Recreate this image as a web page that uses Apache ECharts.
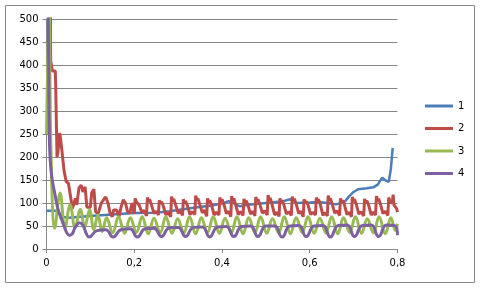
<!DOCTYPE html>
<html>
<head>
<meta charset="utf-8">
<script src="https://cdn.jsdelivr.net/npm/echarts@6/dist/echarts.min.js"></script>
<style>
  html, body { margin: 0; padding: 0; background: #fff; }
  #chart { width: 480px; height: 288px; }
</style>
</head>
<body>
<div id="chart"></div>
<script>
// series names shown in the legend
const seriesNames = ['1', '2', '3', '4']

// series 1 (blue) [x, y]
const s1 = [
  [0, 83], [0.025, 83], [0.035, 70], [0.05, 68], [0.1, 72], [0.15, 75], [0.2, 78],
  [0.25, 79], [0.28, 82], [0.3, 85], [0.34, 90], [0.38, 95], [0.405, 100], [0.415, 104],
  [0.425, 100], [0.44, 93], [0.46, 96], [0.5, 100], [0.54, 104], [0.555, 108], [0.57, 100],
  [0.6, 101], [0.62, 102], [0.64, 100], [0.66, 97], [0.68, 103], [0.69, 115], [0.7, 124],
  [0.71, 130], [0.73, 132], [0.745, 134], [0.755, 140], [0.765, 155], [0.775, 148],
  [0.78, 146], [0.785, 175], [0.789, 220]
]

// series 2 (red) [x, y]
const s2 = [
  [0, 520], [0.009, 520], [0.0095, 409], [0.013, 409], [0.0135, 387], [0.02, 387],
  [0.021, 354], [0.022, 300], [0.024, 200], [0.026, 210], [0.03, 252], [0.032, 240],
  [0.035, 215], [0.04, 170], [0.045, 146], [0.05, 143], [0.055, 113], [0.059, 88],
  [0.063, 85], [0.066, 110], [0.069, 96], [0.074, 133], [0.079, 139], [0.083, 124],
  [0.088, 135], [0.092, 91], [0.1, 91], [0.103, 122], [0.108, 130], [0.112, 80],
  [0.118, 78], [0.122, 78], [0.125, 100], [0.13, 107], [0.135, 113], [0.14, 100],
  [0.145, 78], [0.15, 70], [0.153, 85], [0.16, 85], [0.165, 70], [0.17, 91], [0.175, 107],
  [0.18, 100], [0.185, 80], [0.19, 78], [0.195, 100],
  [0.2, 76], [0.202, 110], [0.205, 102], [0.207, 106], [0.211, 96], [0.215, 99], [0.217, 80], [0.222, 84],
  [0.228, 72], [0.23, 112], [0.233, 103], [0.235, 108], [0.239, 97], [0.243, 100], [0.245, 77], [0.25, 82],
  [0.255, 74], [0.257, 106], [0.26, 98], [0.262, 103], [0.266, 94], [0.27, 97], [0.272, 74], [0.277, 80],
  [0.283, 70], [0.285, 114], [0.288, 104], [0.29, 109], [0.294, 97], [0.298, 100], [0.3, 78], [0.305, 83],
  [0.31, 73], [0.312, 108], [0.315, 99], [0.317, 104], [0.321, 95], [0.325, 98], [0.327, 75], [0.332, 81],
  [0.338, 75], [0.34, 116], [0.343, 105], [0.345, 110], [0.349, 98], [0.353, 101], [0.355, 79], [0.36, 84],
  [0.365, 71], [0.367, 110], [0.37, 101], [0.372, 106], [0.376, 96], [0.38, 99], [0.382, 74], [0.387, 80],
  [0.393, 74], [0.395, 112], [0.398, 103], [0.4, 108], [0.404, 98], [0.408, 101], [0.41, 77], [0.415, 82],
  [0.42, 70], [0.422, 115], [0.425, 104], [0.427, 110], [0.431, 97], [0.435, 100], [0.437, 75], [0.442, 81],
  [0.448, 73], [0.45, 109], [0.453, 100], [0.455, 105], [0.459, 96], [0.463, 99], [0.465, 76], [0.47, 82],
  [0.475, 72], [0.477, 113], [0.48, 103], [0.482, 108], [0.486, 98], [0.49, 101], [0.492, 78], [0.497, 83],
  [0.503, 74], [0.505, 117], [0.508, 105], [0.51, 111], [0.514, 97], [0.518, 100], [0.52, 74], [0.525, 80],
  [0.53, 71], [0.532, 110], [0.535, 101], [0.537, 106], [0.541, 96], [0.545, 99], [0.547, 76], [0.552, 81],
  [0.558, 73], [0.56, 114], [0.563, 104], [0.565, 109], [0.569, 98], [0.573, 101], [0.575, 77], [0.58, 82],
  [0.585, 70], [0.587, 108], [0.59, 99], [0.592, 104], [0.596, 96], [0.6, 99], [0.602, 75], [0.607, 80],
  [0.613, 74], [0.615, 112], [0.618, 103], [0.62, 108], [0.624, 97], [0.628, 100], [0.63, 73], [0.635, 79],
  [0.64, 72], [0.642, 116], [0.645, 105], [0.647, 110], [0.651, 98], [0.655, 101], [0.657, 78], [0.662, 83],
  [0.668, 73], [0.67, 110], [0.673, 101], [0.675, 106], [0.679, 96], [0.683, 99], [0.685, 75], [0.69, 80],
  [0.695, 70], [0.697, 113], [0.7, 103], [0.702, 108], [0.706, 97], [0.71, 100], [0.712, 76], [0.717, 81],
  [0.723, 72], [0.725, 109], [0.728, 100], [0.73, 105], [0.734, 96], [0.738, 99], [0.74, 74], [0.745, 80],
  [0.75, 74], [0.752, 115], [0.755, 104], [0.757, 109], [0.761, 98], [0.765, 101], [0.767, 77], [0.772, 82],
  [0.778, 73], [0.78, 112], [0.783, 102], [0.785, 106], [0.788, 100], [0.79, 118], [0.792, 96],
  [0.795, 100], [0.798, 88], [0.8, 80]
]

// series 3 (green) [x, y]
const s3 = [
  [0, 250], [0.006, 520], [0.01, 222], [0.019, 45], [0.031, 122], [0.042, 46], [0.054, 96],
  [0.065, 46], [0.077, 86], [0.087, 47], [0.098, 85], [0.108, 42], [0.117, 74], [0.127, 38],
  [0.137, 68], [0.151, 35], [0.164, 70], [0.178, 34], [0.191, 68], [0.205, 36], [0.218, 70],
  [0.232, 33], [0.245, 67], [0.259, 35], [0.272, 70], [0.286, 34], [0.299, 66], [0.313, 35],
  [0.326, 70], [0.34, 33], [0.353, 68], [0.367, 36], [0.38, 70], [0.394, 34], [0.407, 67],
  [0.421, 35], [0.434, 70], [0.448, 33], [0.461, 68], [0.475, 36], [0.488, 70], [0.502, 34],
  [0.515, 66], [0.529, 35], [0.542, 70], [0.556, 33], [0.569, 68], [0.583, 36], [0.596, 70],
  [0.61, 34], [0.623, 67], [0.637, 35], [0.65, 70], [0.664, 33], [0.677, 68], [0.691, 36],
  [0.704, 70], [0.718, 34], [0.731, 66], [0.745, 35], [0.758, 70], [0.772, 33], [0.785, 68],
  [0.795, 40], [0.8, 55]
]

// series 4 (purple) [x, y]
const s4 = [
  [0, 520], [0.004, 500], [0.006, 280], [0.008, 200], [0.012, 157], [0.019, 120],
  [0.026, 88], [0.034, 65], [0.04, 50], [0.046, 36], [0.052, 30], [0.058, 32], [0.066, 48],
  [0.076, 57], [0.084, 50], [0.091, 33], [0.097, 26], [0.115, 40], [0.135, 42], [0.152, 26],
  [0.17, 42], [0.19, 44], [0.207, 26], [0.225, 44], [0.245, 45], [0.262, 27], [0.28, 46],
  [0.3, 47], [0.317, 27], [0.335, 47], [0.355, 48], [0.372, 26], [0.39, 48], [0.41, 49],
  [0.427, 27], [0.445, 49], [0.465, 50], [0.482, 27], [0.5, 50], [0.52, 50], [0.537, 26],
  [0.555, 50], [0.575, 51], [0.592, 27], [0.61, 50], [0.63, 51], [0.647, 26], [0.665, 51],
  [0.685, 52], [0.702, 27], [0.72, 51], [0.74, 52], [0.757, 27], [0.775, 52], [0.795, 50],
  [0.8, 30]
]

const colors = ['#4a7ebb', '#be4b48', '#98b954', '#7d60a0']
const font = 'DejaVu Sans'

const chart = echarts.init(document.getElementById('chart'), null, { renderer: 'canvas' })

const lineSeries = (name, data, color, smooth, width) => ({
  name,
  type: 'line',
  data,
  symbol: 'none',
  smooth,
  lineStyle: { color, width },
  itemStyle: { color },
  emphasis: { disabled: true }
})

chart.setOption({
  animation: false,
  textStyle: { fontFamily: font },
  graphic: [{
    type: 'rect',
    shape: { x: 5.5, y: 5.5, width: 469, height: 277 },
    style: { fill: null, stroke: '#868686', lineWidth: 1 },
    silent: true
  }],
  grid: { left: 46.5, right: 82.5, top: 19, bottom: 39, containLabel: false },
  legend: {
    orient: 'vertical',
    left: 425,
    top: 101,
    padding: 0,
    itemWidth: 28,
    itemHeight: 3,
    itemGap: 12.5,
    icon: 'rect',
    textStyle: { fontFamily: font, fontSize: 10, color: '#000' },
    data: seriesNames
  },
  xAxis: {
    type: 'value',
    min: 0,
    max: 0.8,
    interval: 0.2,
    axisLine: { show: true, lineStyle: { color: '#868686', width: 1 } },
    axisTick: { show: true, length: 4, lineStyle: { color: '#868686' } },
    splitLine: { show: false },
    axisLabel: {
      margin: 9,
      color: '#000',
      fontSize: 10,
      fontFamily: font,
      formatter: v => String(v).replace('.', ',')
    }
  },
  yAxis: {
    type: 'value',
    min: 0,
    max: 500,
    interval: 50,
    axisLine: { show: true, lineStyle: { color: '#868686', width: 1 } },
    axisTick: { show: true, length: 4, lineStyle: { color: '#868686' } },
    splitLine: { show: true, lineStyle: { color: '#868686', width: 1 } },
    axisLabel: { margin: 8, color: '#000', fontSize: 10, fontFamily: font }
  },
  series: [
    lineSeries(seriesNames[0], s1, colors[0], false, 2.5),
    lineSeries(seriesNames[1], s2, colors[1], false, 3),
    lineSeries(seriesNames[2], s3, colors[2], 0.4, 3),
    lineSeries(seriesNames[3], s4, colors[3], 0.5, 3)
  ]
})
</script>
</body>
</html>
